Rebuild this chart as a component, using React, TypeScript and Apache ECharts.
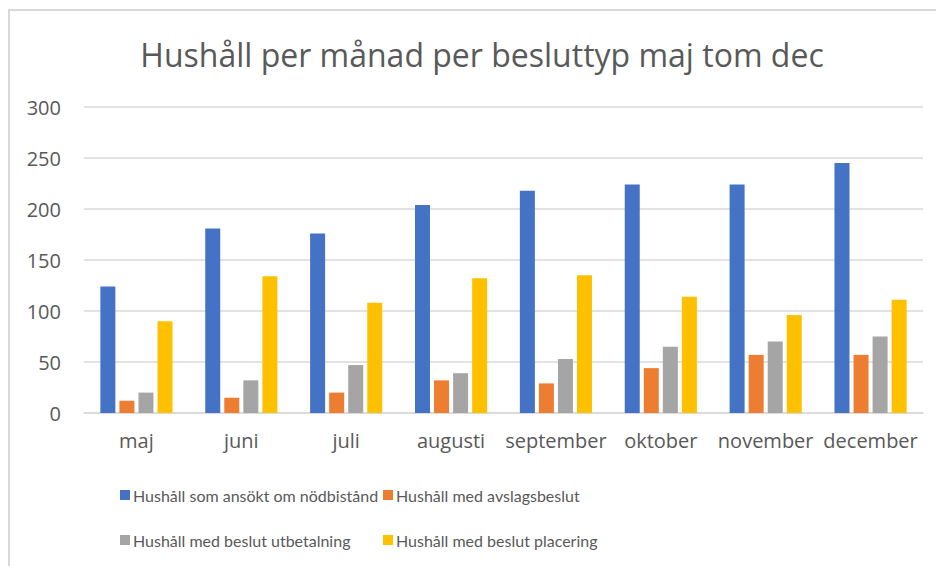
import React, { useEffect, useRef } from "react";
import * as echarts from "echarts";

const months = ["maj", "juni", "juli", "augusti", "september", "oktober", "november", "december"];
const seriesNames = [
  "Hushåll som ansökt om nödbistånd",
  "Hushåll med avslagsbeslut",
  "Hushåll med beslut utbetalning",
  "Hushåll med beslut placering",
];
const ansokt = [124, 181, 176, 204, 218, 224, 224, 245];
const avslag = [12, 15, 20, 32, 29, 44, 57, 57];
const utbetalning = [20, 32, 47, 39, 53, 65, 70, 75];
const placering = [90, 134, 108, 132, 135, 114, 96, 111];
const colors = ["#4472C4", "#ED7D31", "#A5A5A5", "#FFC000"];
const yTicks = { min: 0, max: 300, interval: 50 };

const FONT = "'Open Sans'";
const LEGEND_FONT = "Lato";
const TXT = "#595959";

export default function App() {
  const ref = useRef<HTMLDivElement>(null);
  useEffect(() => {
    if (!ref.current) return;
    const chart = echarts.init(ref.current, null, { renderer: "svg" });
    const values = [ansokt, avslag, utbetalning, placering];
    const legendPos = [
      { left: 120, top: 487 },
      { left: 383, top: 487 },
      { left: 120, top: 532 },
      { left: 383, top: 532 },
    ];
    chart.setOption({
      animation: false,
      backgroundColor: "#ffffff",
      title: {
        text: "Hushåll per månad per besluttyp maj tom dec",
        left: 477,
        top: 33,
        textAlign: "center",
        textStyle: { fontFamily: FONT, fontSize: 32, fontWeight: "normal", color: TXT },
      },
      graphic: [
        {
          type: "rect",
          shape: { x: 9, y: 10, width: 960, height: 600 },
          style: { fill: "none", stroke: "#D9D9D9", lineWidth: 2 },
          silent: true,
        },
      ],
      legend: legendPos.map((p, i) => ({
        data: [seriesNames[i]],
        left: p.left,
        top: p.top,
        padding: 0,
        itemWidth: 10,
        itemHeight: 10,
        itemGap: 10,
        icon: "rect",
        textStyle: { fontFamily: LEGEND_FONT, fontSize: 16, color: TXT, padding: [0, 0, 0, -2] },
      })),
      grid: { left: 84, right: 13, top: 107, bottom: 153, containLabel: false },
      xAxis: {
        type: "category",
        data: months,
        axisLine: { lineStyle: { color: "#D9D9D9", width: 1.5 } },
        axisTick: { show: false },
        axisLabel: { fontFamily: FONT, fontSize: 20, color: TXT, margin: 17, interval: 0 },
      },
      yAxis: {
        type: "value",
        min: yTicks.min,
        max: yTicks.max,
        interval: yTicks.interval,
        axisLine: { show: false },
        axisTick: { show: false },
        splitLine: { lineStyle: { color: "#D9D9D9", width: 1.5 } },
        axisLabel: { fontFamily: FONT, fontSize: 20, color: TXT, margin: 23 },
      },
      series: values.map((v, i) => ({
        type: "bar",
        name: seriesNames[i],
        data: v,
        barWidth: 15,
        barGap: "27%",
        itemStyle: { color: colors[i] },
      })),
    });
    return () => chart.dispose();
  }, []);
  return <div ref={ref} style={{ width: 936, height: 566, position: "absolute", left: 0, top: 0 }} />;
}
